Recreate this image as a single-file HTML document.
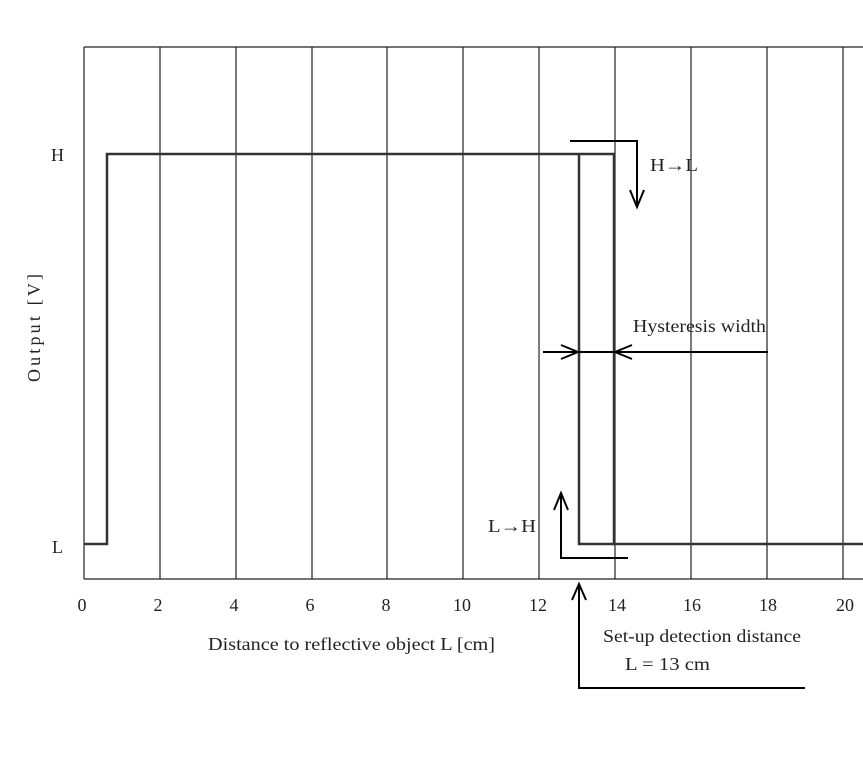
<!DOCTYPE html>
<html><head><style>body{margin:0;background:#fff}svg{display:block}</style></head><body>
<svg width="863" height="760" xmlns="http://www.w3.org/2000/svg" font-family="Liberation Serif, serif" font-size="18" fill="#222">
<g stroke="#222" stroke-width="1.2" fill="none">
<line x1="84" y1="47" x2="863" y2="47"/>
<line x1="84" y1="579" x2="863" y2="579"/>
<line x1="84" y1="47" x2="84" y2="579"/>
<line x1="160" y1="47" x2="160" y2="579"/>
<line x1="236" y1="47" x2="236" y2="579"/>
<line x1="312" y1="47" x2="312" y2="579"/>
<line x1="387" y1="47" x2="387" y2="579"/>
<line x1="463" y1="47" x2="463" y2="579"/>
<line x1="539" y1="47" x2="539" y2="579"/>
<line x1="615" y1="47" x2="615" y2="579"/>
<line x1="691" y1="47" x2="691" y2="579"/>
<line x1="767" y1="47" x2="767" y2="579"/>
<line x1="843" y1="47" x2="843" y2="579"/>
</g>
<g stroke="#333" stroke-width="2.5" fill="none">
<polyline points="84,544 107,544 107,154 614,154 614,544 863,544"/>
<polyline points="579,154 579,544 614,544"/>
</g>
<g stroke="#000" stroke-width="2" fill="none">
<polyline points="570,141 637,141 637,207"/>
<polyline points="630,190 637,207 644,190"/>
<polyline points="628,558 561,558 561,493"/>
<polyline points="554,510 561,493 568,510"/>
<polyline points="805,688 579,688 579,584"/>
<polyline points="572,600 579,584 586,600"/>
<line x1="543" y1="352" x2="768" y2="352"/>
<polyline points="561,345 578,352 561,359"/>
<polyline points="632,345 615,352 632,359"/>
</g>
<text x="51" y="161">H</text>
<text x="52" y="553">L</text>
<text x="40" y="328" transform="rotate(-90 40 328)" text-anchor="middle" textLength="108" lengthAdjust="spacing">Output  [V]</text>
<g text-anchor="middle">
<text x="82" y="611">0</text><text x="158" y="611">2</text><text x="234" y="611">4</text>
<text x="310" y="611">6</text><text x="386" y="611">8</text><text x="462" y="611">10</text>
<text x="538" y="611">12</text><text x="617" y="611">14</text><text x="692" y="611">16</text>
<text x="768" y="611">18</text><text x="845" y="611">20</text>
</g>
<text x="208" y="650" textLength="287" lengthAdjust="spacingAndGlyphs">Distance to reflective object  L [cm]</text>
<text x="650" y="171" textLength="48" lengthAdjust="spacingAndGlyphs">H→L</text>
<text x="488" y="532" textLength="48" lengthAdjust="spacingAndGlyphs">L→H</text>
<text x="633" y="332" textLength="133" lengthAdjust="spacingAndGlyphs">Hysteresis width</text>
<text x="603" y="642" textLength="198" lengthAdjust="spacingAndGlyphs">Set-up detection distance</text>
<text x="625" y="670" textLength="85" lengthAdjust="spacingAndGlyphs">L = 13 cm</text>
</svg>
</body></html>
